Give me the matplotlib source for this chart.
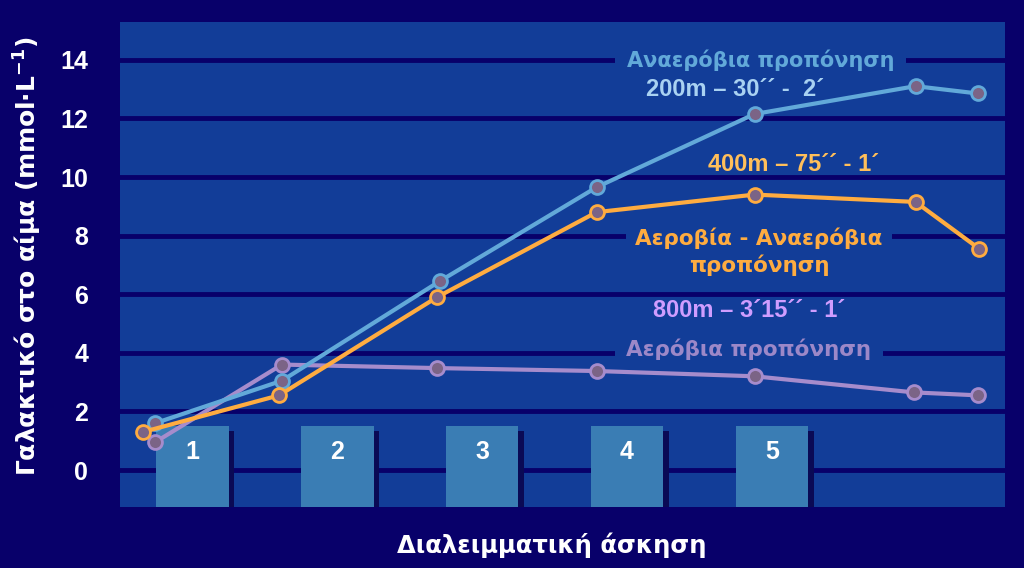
import numpy as np
import matplotlib.pyplot as plt

# values (x: position along the session, boxes 1-5 at 1..5)
x_anaer = [0.745, 1.62, 2.71, 3.79, 4.88, 5.99, 6.42]
y_anaer = [1.6, 3.05, 6.45, 9.65, 12.15, 13.1, 12.85]
x_mixed = [0.662, 1.60, 2.69, 3.79, 4.88, 5.99, 6.43]
y_mixed = [1.3, 2.55, 5.9, 8.8, 9.4, 9.15, 7.55]
x_aer = [0.745, 1.62, 2.69, 3.79, 4.88, 5.98, 6.42]
y_aer = [0.95, 3.6, 3.48, 3.38, 3.2, 2.65, 2.55]
sets = [1, 2, 3, 4, 5]
set_labels = ['1', '2', '3', '4', '5']
yticks = [0, 2, 4, 6, 8, 10, 12, 14]

bg = '#08006a'
panel = '#123d98'
c_blue = '#62a9d9'
c_orange = '#ffac40'
c_purple = '#a68ccc'
face = '#7b6486'
greek = ['DejaVu Sans']

plt.rcParams['font.family'] = ['Liberation Sans', 'DejaVu Sans']
plt.rcParams['font.weight'] = 'bold'
plt.rcParams['mathtext.fontset'] = 'dejavusans'

fig = plt.figure(figsize=(10.24, 5.68), dpi=100, facecolor=bg)
ax = fig.add_axes([0.1172, 0.1074, 0.8642, 0.8539])
ax.set_facecolor(panel)
ax.set_xlim(0.503, 6.607)
ax.set_ylim(-1.26, 15.29)
for s in ax.spines.values():
    s.set_visible(False)

ax.set_yticks(yticks)
ax.set_xticks([])
ax.tick_params(axis='y', length=0, pad=23, labelsize=18, labelcolor='white')
ax.grid(axis='y', color=bg, linewidth=3.5, zorder=0)
ax.set_axisbelow(True)

# set boxes with shadow
ax.bar(np.array(sets) + 0.035, 1.35 + 1.3, width=0.503, bottom=-1.3,
       color='#0a0a55', zorder=1)
ax.bar(sets, 1.5 + 1.3, width=0.503, bottom=-1.3, color='#3a7db4', zorder=1.5)
for s, lab in zip(sets, set_labels):
    ax.text(s, 0.6, lab, color='white', fontsize=18, ha='center', va='center',
            zorder=1.6)

mk = dict(marker='o', markersize=10, markerfacecolor=face, markeredgewidth=2,
          linewidth=3, zorder=5)
ax.plot(x_aer, y_aer, color=c_purple, markeredgecolor=c_purple, **mk)
ax.plot(x_anaer, y_anaer, color=c_blue, markeredgecolor=c_blue, **mk)
ax.plot(x_mixed, y_mixed, color=c_orange, markeredgecolor=c_orange, **mk)

box = dict(boxstyle='square,pad=0.55', facecolor=panel, edgecolor='none')
ax.text(4.92, 14.0, 'Αναερόβια προπόνηση', color=c_blue, fontsize=15,
        family=greek, ha='center', va='center', bbox=box, zorder=2)
ax.text(4.745, 12.98, '200m – 30´´ -  2´', color='#a9d2f2', fontsize=17,
        ha='center', va='center', zorder=2.5)
ax.text(5.152, 10.42, '400m – 75´´ - 1´', color='#ffbf5a', fontsize=17,
        ha='center', va='center', zorder=2.5)
ax.text(4.910, 7.45, 'Αεροβία - Αναερόβια\nπροπόνηση', color=c_orange,
        fontsize=15.5, family=greek, ha='center', va='center',
        linespacing=1.3,
        bbox=dict(boxstyle='square,pad=0.45', facecolor=panel, edgecolor='none'),
        zorder=2)
ax.text(4.841, 4.12, 'Αερόβια προπόνηση', color='#9c88c8', fontsize=15.5,
        family=greek, ha='center', va='center', bbox=box, zorder=2)
ax.text(4.841, 5.45, '800m – 3´15´´ - 1´', color='#cf9dff', fontsize=17,
        ha='center', va='center', zorder=2.5)

fig.text(0.027, 0.549, 'Γαλακτικό στο αίμα (mmol·L$^{\\mathbf{-1}}$)',
         color='white', fontsize=18, family=greek, rotation=90,
         ha='center', va='center')
fig.text(0.539, 0.04, 'Διαλειμματική άσκηση', color='white', fontsize=17.5,
         family=greek, ha='center', va='center')

fig.savefig('out.png', dpi=100, facecolor=bg)
